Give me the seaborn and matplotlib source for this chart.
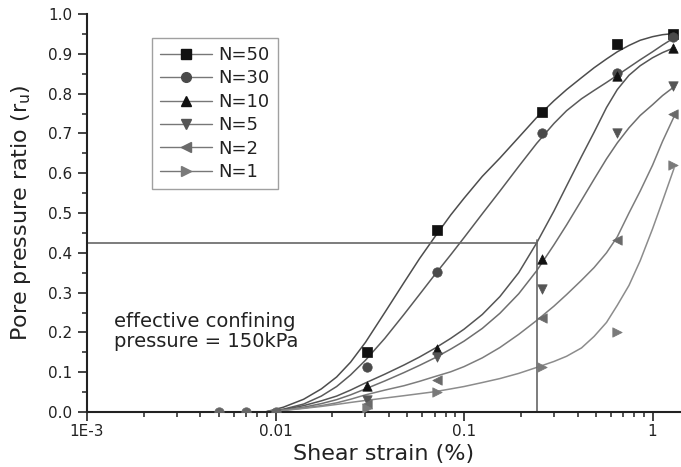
import matplotlib
matplotlib.use("Agg")
import matplotlib.pyplot as plt
import seaborn as sns
from matplotlib.lines import Line2D
from matplotlib.ticker import FixedLocator, FixedFormatter, LogLocator, MultipleLocator

# measured points (shear strain %, pore pressure ratio)
strain_pts = [0.0305, 0.0716, 0.258, 0.645, 1.28]
ru_n50 = [0.152, 0.457, 0.755, 0.925, 0.951]
ru_n30 = [0.112, 0.351, 0.700, 0.853, 0.943]
ru_n10 = [0.065, 0.158, 0.384, 0.843, 0.915]
ru_n5 = [0.030, 0.139, 0.310, 0.700, 0.820]
ru_n2 = [0.020, 0.080, 0.235, 0.432, 0.750]
ru_n1 = [0.010, 0.051, 0.114, 0.200, 0.620]
zero_strain = [0.005, 0.007, 0.01]
zero_ru = [0, 0, 0]

# fitted curves
curve_x = [0.0088, 0.011, 0.0141, 0.0175, 0.0211, 0.025, 0.03, 0.038, 0.048, 0.058,
           0.07, 0.085, 0.1, 0.125, 0.155, 0.195, 0.243, 0.3, 0.35, 0.42,
           0.49, 0.57, 0.65, 0.75, 0.86, 1.0, 1.13, 1.3]
fit_n50 = [0, 0.012, 0.032, 0.058, 0.088, 0.125, 0.175, 0.25, 0.325, 0.385,
           0.44, 0.495, 0.537, 0.592, 0.638, 0.69, 0.74, 0.782, 0.81, 0.84,
           0.865, 0.887, 0.905, 0.921, 0.934, 0.943, 0.948, 0.951]
fit_n30 = [0, 0.007, 0.02, 0.04, 0.064, 0.093, 0.13, 0.185, 0.245, 0.295,
           0.345, 0.395, 0.438, 0.498, 0.555, 0.617, 0.675, 0.725, 0.757, 0.787,
           0.808, 0.828, 0.846, 0.866, 0.885, 0.905, 0.922, 0.94]
fit_n10 = [0, 0.006, 0.016, 0.028, 0.04, 0.055, 0.073, 0.095, 0.118, 0.138,
           0.16, 0.185, 0.208, 0.245, 0.29, 0.35, 0.425, 0.505, 0.568, 0.642,
           0.703, 0.765, 0.81, 0.846, 0.87, 0.89, 0.903, 0.915]
fit_n5 = [0, 0.005, 0.012, 0.021, 0.031, 0.043, 0.058, 0.078, 0.099, 0.117,
          0.136, 0.158, 0.178, 0.21, 0.248, 0.297, 0.355, 0.42, 0.47, 0.532,
          0.585, 0.636, 0.676, 0.714, 0.745, 0.772, 0.795, 0.817]
fit_n2 = [0, 0.004, 0.01, 0.016, 0.023, 0.032, 0.043, 0.055, 0.066, 0.077,
          0.089, 0.101, 0.114, 0.136, 0.162, 0.195, 0.23, 0.266, 0.295, 0.331,
          0.363, 0.4, 0.44, 0.5, 0.555, 0.62, 0.68, 0.742]
fit_n1 = [0, 0.004, 0.009, 0.014, 0.019, 0.024, 0.029, 0.035, 0.041, 0.046,
          0.051, 0.058, 0.064, 0.074, 0.084, 0.097, 0.112, 0.127, 0.14, 0.161,
          0.19, 0.225, 0.268, 0.318, 0.38, 0.46, 0.53, 0.612]

labels = ["N=50", "N=30", "N=10", "N=5", "N=2", "N=1"]
points = [ru_n50, ru_n30, ru_n10, ru_n5, ru_n2, ru_n1]
fits = [fit_n50, fit_n30, fit_n10, fit_n5, fit_n2, fit_n1]
markers = ["s", "o", "^", "v", "<", ">"]
mcolors = ["#111111", "#4a4a4a", "#111111", "#555555", "#6a6a6a", "#7a7a7a"]
lcolors = ["#4d4d4d", "#5a5a5a", "#555555", "#6e6e6e", "#7d7d7d", "#8c8c8c"]

# reference lines
ref_strain = 0.244
ref_ru = 0.425

sns.set_style("ticks")
plt.rcParams["font.family"] = ["DejaVu Sans"]

fig = plt.figure(figsize=(6.81, 4.67), dpi=100)
ax = fig.add_axes([87 / 681, 1 - 412 / 467, 594 / 681, 398 / 467])

for fit, lc in zip(fits, lcolors):
    sns.lineplot(x=curve_x, y=fit, color=lc, lw=1.1, ax=ax, sort=False)

for pts, m, mc in zip(points, markers, mcolors):
    sns.scatterplot(x=strain_pts, y=pts, marker=m, color=mc, s=46,
                    edgecolor=mc, linewidth=0.5, ax=ax, zorder=3)

sns.scatterplot(x=zero_strain, y=zero_ru, marker="o", color="#666666", s=46,
                edgecolor="#666666", ax=ax, zorder=3)

ax.plot([1e-3, ref_strain], [ref_ru, ref_ru], color="#666666", lw=1.2)
ax.plot([ref_strain, ref_strain], [0, ref_ru + 0.008], color="#666666", lw=1.2)

ax.set_xscale("log")
ax.set_xlim(1e-3, 1.416)
ax.set_ylim(0, 1.0)

ax.xaxis.set_major_locator(FixedLocator([1e-3, 1e-2, 1e-1, 1]))
ax.xaxis.set_major_formatter(FixedFormatter(["1E-3", "0.01", "0.1", "1"]))
ax.xaxis.set_minor_locator(LogLocator(base=10, subs=range(2, 10), numticks=20))
ax.yaxis.set_major_locator(MultipleLocator(0.1))
ax.yaxis.set_minor_locator(MultipleLocator(0.05))
ax.yaxis.set_major_formatter(plt.FuncFormatter(lambda v, p: f"{v:.1f}"))

ax.tick_params(which="major", direction="out", length=6.5, width=1.2,
               labelsize=11, color="#222222", labelcolor="#222222")
ax.tick_params(which="minor", direction="out", length=3.4, width=1.1, color="#222222")
ax.tick_params(axis="y", pad=4)
ax.tick_params(axis="x", pad=2)

for s in ["top", "right"]:
    ax.spines[s].set_visible(False)
for s in ["left", "bottom"]:
    ax.spines[s].set_linewidth(1.5)
    ax.spines[s].set_color("#222222")

ax.set_xlabel("Shear strain (%)", fontsize=16, color="#222222", labelpad=4)
ax.set_ylabel(r"Pore pressure ratio (r$_\mathregular{u}$)", fontsize=16,
              color="#222222", labelpad=11)

ax.text(0.046, 0.163, "effective confining\npressure = 150kPa", transform=ax.transAxes,
        fontsize=14, color="#222222", linespacing=1.1, va="baseline")

handles = [Line2D([], [], color="#777777", lw=1.0, marker=m, markersize=7,
                  markerfacecolor=mc, markeredgecolor=mc)
           for m, mc in zip(markers, mcolors)]
leg = ax.legend(handles, labels, loc="upper left", bbox_to_anchor=(0.109, 0.94),
                borderaxespad=0, fontsize=13, frameon=True, fancybox=False,
                handlelength=2.9, handletextpad=0.35, labelspacing=0.3,
                borderpad=0.45)
leg.get_frame().set_edgecolor("#888888")
leg.get_frame().set_linewidth(1.0)
for t in leg.get_texts():
    t.set_color("#222222")

fig.savefig("out.png", dpi=100)
